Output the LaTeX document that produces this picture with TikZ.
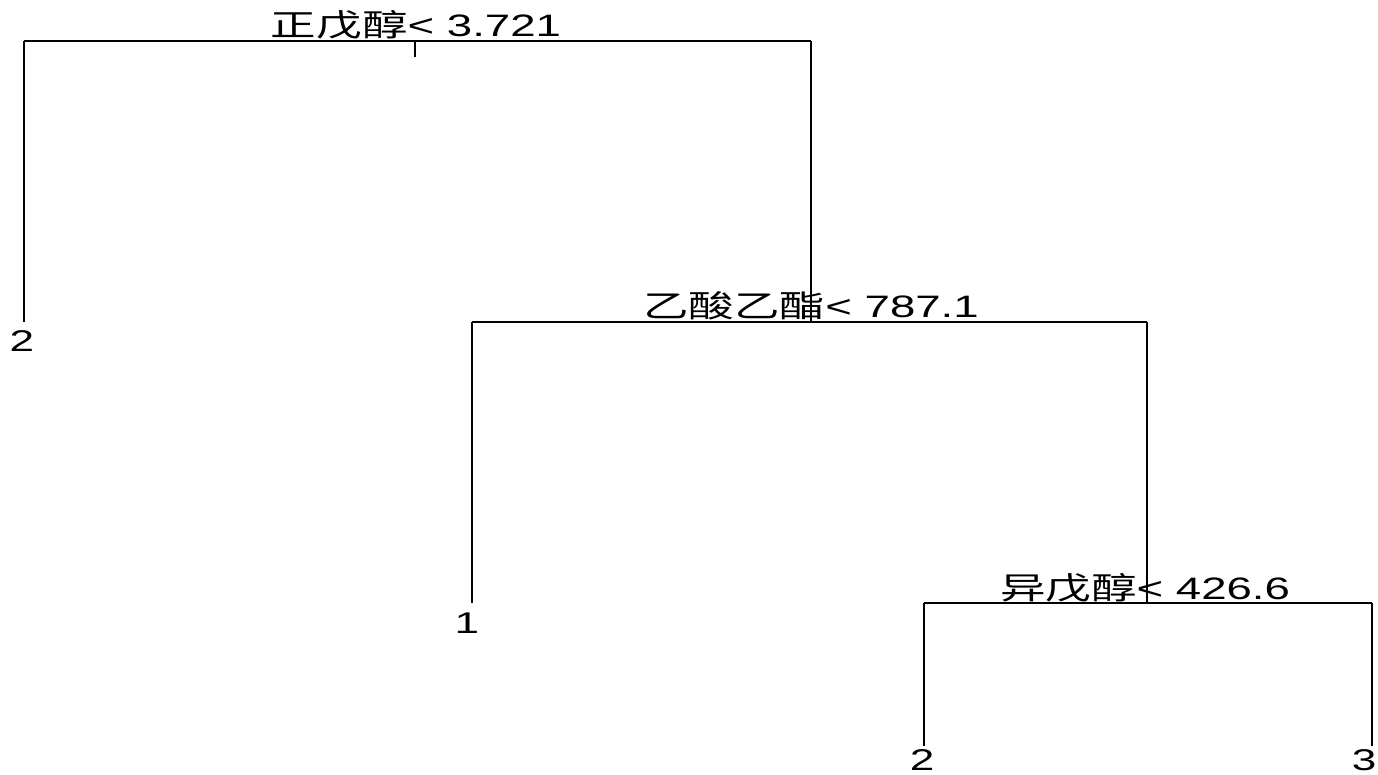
\documentclass[tikz,border=0pt]{standalone}
\usepackage{fontspec}
\setmainfont{Liberation Sans}
\newfontfamily\cjk{Noto Sans CJK SC}
\newcommand{\wide}[1]{\scalebox{1.47}[1]{#1}}
\begin{document}
\begin{tikzpicture}[x=1pt,y=-1pt,
  edge/.style={draw=black,line width=1.4pt},
  split/.style={inner sep=0pt,anchor=base,font=\fontsize{31}{31}\selectfont},
  leaf/.style={inner sep=0pt,anchor=base,font=\fontsize{30}{30}\selectfont}]
\useasboundingbox (0,0) rectangle (1378,775);
% tree nodes
\coordinate (n1) at (415,41);
\coordinate (n1l) at (24,41);
\coordinate (n1r) at (811,41);
\coordinate (n1s) at (415,57);
\coordinate (n2) at (811,322);
\coordinate (n2l) at (472,322);
\coordinate (n2r) at (1147,322);
\coordinate (n3) at (1147,603);
\coordinate (n3l) at (924,603);
\coordinate (n3r) at (1372,603);
\coordinate (e1) at (24,322);
\coordinate (e2) at (472,603);
\coordinate (e3) at (924,746);
\coordinate (e4) at (1372,746);
% edges
\draw[edge] (n1s) -- (n1) (n1l) -- (n1r);
\draw[edge] (n1l) -- (e1);
\draw[edge] (n1r) -- (n2);
\draw[edge] (n2l) -- (n2r);
\draw[edge] (n2l) -- (e2);
\draw[edge] (n2r) -- (n3);
\draw[edge] (n3l) -- (n3r);
\draw[edge] (n3l) -- (e3);
\draw[edge] (n3r) -- (e4);
% labels
\node[split] (t1) at (416,37) {\wide{{\cjk 正戊醇}< 3.721}};
\node[split] (t2) at (811,318) {\wide{{\cjk 乙酸乙酯}< 787.1}};
\node[split] (t3) at (1145,599) {\wide{{\cjk 异戊醇}< 426.6}};
\node[leaf] (l1) at (22,352) {\wide{2}};
\node[leaf] (l2) at (467,633) {\wide{1}};
\node[leaf] (l3) at (922,770) {\wide{2}};
\node[leaf] (l4) at (1364,770) {\wide{3}};
\end{tikzpicture}
\end{document}
